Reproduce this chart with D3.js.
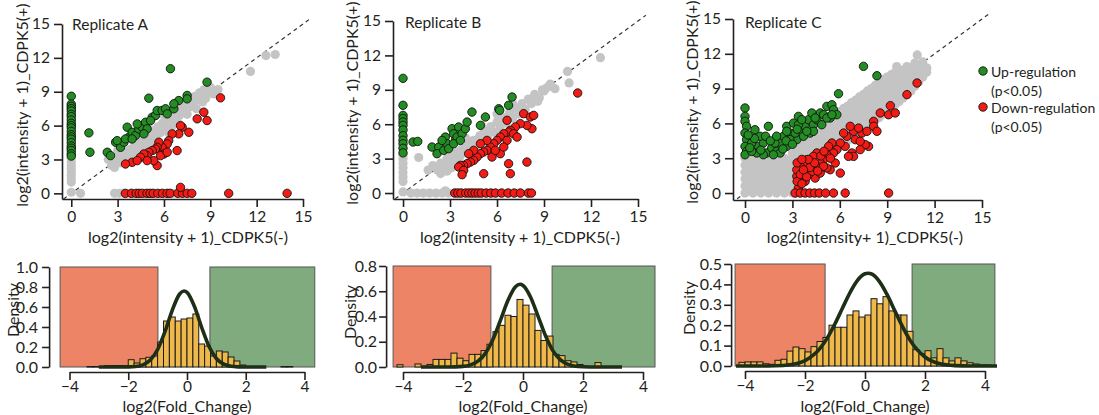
<!DOCTYPE html>
<html>
<head>
<meta charset="utf-8">
<script src="https://cdn.jsdelivr.net/npm/d3@7"></script>
<style>
body { margin: 0; background: #fff; }
svg { display: block; font-family: Lato, "Open Sans", sans-serif; }
</style>
</head>
<body>
<svg id="chart" width="1099" height="415"></svg>
<script>
// ---- scatter data: [log2 CDPK5(-), log2 CDPK5(+)] ----
var grayA = [[0,0.1],[0,1.0],[0,1.3],[0,1.6],[0,1.9],[0,2.2],[0,2.5],[0,2.8],[0,3.1],[0.6,0],
  [2.8,0],[3.1,0],[3.4,0],[3.8,0],[4.3,0],[4.8,0],[5.3,0],[5.8,0],[6.3,0],[6.6,0],
  [2.4,3.0],[2.6,2.5],[2.8,2.3],[2.9,2.8],[3.1,3.3],[3.2,2.7],[3.4,3.0],[3.5,3.6],[3.7,3.2],[3.8,3.9],
  [4.0,3.5],[4.1,4.2],[4.3,3.8],[4.4,4.5],[4.6,4.1],[4.7,4.8],[4.9,4.5],[5.0,5.2],[5.2,4.8],[5.3,5.5],
  [5.5,5.1],[5.6,5.9],[5.8,5.4],[5.9,6.2],[6.1,5.8],[6.2,6.6],[6.4,6.1],[6.5,6.9],[6.7,6.5],[6.8,7.2],
  [7.0,6.9],[7.1,7.5],[7.3,7.2],[7.4,7.9],[7.6,7.6],[7.7,8.2],[7.9,8.0],[8.0,8.6],[8.2,8.3],[8.3,8.9],
  [8.5,8.6],[8.6,9.2],[8.8,9.0],[9.0,9.4],[9.5,9.2],[11.6,10.8],[12.6,12.2],[13.2,12.3],
  [3.0,3.8],[4.0,4.7],[5.0,5.8],[6.0,6.9],[7.0,7.8],[3.5,2.9],[4.5,3.7],[5.5,4.7],[6.5,5.9],[7.5,7.0],[8.5,8.1],
  [3.3,3.5],[3.9,3.3],[4.5,4.2],[5.1,4.3],[5.7,5.6],[6.3,5.4],[6.9,6.2],[7.5,7.6],[8.1,7.5],[8.7,8.4],[9.2,8.8],[2.7,2.9]];
var greenA = [[6.42,11.04],[8.79,9.85],[5.02,8.43],[1.14,5.36],[1.21,3.64],
  [0,8.6],[0,7.9],[0,7.7],[0,7.5],[0,7.3],[0,7.0],[0,6.8],[0,6.5],[0,6.2],[0,6.0],[0,5.8],[0,5.5],[0,5.2],
  [0,5.0],[0,4.8],[0,4.5],[0,4.2],[0,4.0],[0,3.8],[0,3.5],[0,3.3],
  [2.33,3.64],[2.54,3.34],[2.87,4.53],[3.19,4.08],[3.41,4.53],[3.62,5.86],[3.73,4.97],[3.94,5.41],[4.16,5.12],
  [4.37,5.71],[4.59,5.86],[4.81,6.30],[4.91,5.71],[5.24,6.75],[5.45,6.89],[5.56,7.34],[5.88,7.34],[6.10,7.49],
  [6.64,7.49],[6.96,8.22],[7.50,8.67],[7.50,8.37],[4.70,5.27],[4.27,6.15],[2.97,4.67],[3.51,4.82],[3.94,4.82],
  [5.13,6.45],[6.21,7.04],[6.64,7.93]];
var redA = [[9.66,8.46],[8.58,7.19],[8.79,6.45],[8.15,6.60],[7.18,5.86],[7.07,6.0],[7.61,5.41],[6.96,5.27],
  [6.53,5.27],[6.31,4.67],[6.21,4.38],[5.88,4.08],[5.67,4.53],[6.0,3.49],[5.56,4.08],[5.45,3.93],[5.24,3.79],
  [5.02,3.64],[4.91,3.34],[4.70,3.49],[4.48,3.20],[3.94,2.75],[3.51,2.60],[5.56,2.46],[5.34,2.90],[6.85,3.79],
  [5.78,3.34],[6.21,3.64],[4.91,2.90],[4.27,2.90],
  [3.5,0],[3.9,0],[4.2,0],[4.4,0],[4.6,0],[4.9,0],[5.1,0],[5.3,0],[5.6,0],[5.9,0],[6.2,0],[6.4,0],[6.9,0],
  [7.2,0],[7.5,0],[7.8,0],[7.07,0.53],[10.19,0],[13.97,0]];

var grayB = [[0,0.1],[0,1.0],[0,1.4],[0,1.8],[0,2.2],[0,2.6],[0,3.0],[0,3.3],
  [0.5,0],[0.9,0],[1.3,0],[1.7,0],[2.1,0],[2.5,0],[2.9,0],[3.3,0],[3.8,0],[4.4,0],[5.0,0],[5.6,0],[6.2,0],
  [6.8,0],[7.4,0],[8.0,0],
  [1.0,3.1],[1.9,2.4],[1.6,2.0],[2.2,2.0],[2.4,2.6],[2.6,2.2],[2.8,3.0],[3.0,2.5],[3.2,3.3],[3.3,2.8],
  [3.5,3.6],[3.6,3.1],[3.8,3.9],[4.0,3.5],[4.2,4.3],[4.3,3.8],[4.5,4.6],[4.7,4.2],[4.9,5.0],[5.0,4.5],
  [5.2,5.4],[5.4,4.9],[5.6,5.8],[5.8,5.3],[6.0,6.2],[6.2,5.7],[6.4,6.6],[6.6,6.1],[6.8,7.0],[7.0,6.5],
  [7.2,7.4],[7.4,6.9],[7.6,7.8],[7.8,7.3],[8.0,8.2],[8.2,7.8],[8.4,8.6],[8.7,8.3],[8.9,9.0],[9.4,9.5],
  [9.0,8.9],[9.7,9.1],[10.5,10.6],[10.6,9.6],[12.6,11.8],[4.0,4.8],[5.0,5.9],[6.0,6.9],[7.0,7.8],[3.0,3.7],
  [2.7,0.2],[2.4,1.7],[2.8,1.9],[3.1,2.2],
  [3.4,3.2],[4.1,4.0],[4.8,4.7],[5.5,5.3],[6.2,6.0],[6.9,6.7],[7.6,7.3],[8.3,8.1],[9.2,9.2],[8.6,8.0]];
var greenB = [[0,10.0],[0,7.65],[0,6.77],[0,6.5],[0,6.2],[0,5.9],[0,5.5],[0,5.0],[0,4.6],[0,4.3],[0,3.9],[0,3.5],
  [0.64,4.45],[0.94,4.5],[1.85,4.01],[2.28,4.01],[2.17,3.43],[2.6,3.72],[2.7,4.88],[2.81,4.30],[2.91,3.87],
  [3.13,5.61],[3.23,5.17],[3.34,4.59],[3.45,4.88],[3.55,5.76],[3.77,5.17],[3.98,5.61],[4.09,6.19],[4.40,7.06],
  [4.94,5.90],[5.26,6.63],[6.11,7.35],[6.17,7.21],[6.74,7.65],[6.96,8.37],[2.49,4.59],[3.23,4.30],[3.66,4.59]];
var redB = [[11.15,8.72],[7.7,6.92],[8.13,6.63],[8.34,6.77],[8.23,5.61],[7.91,5.90],[7.49,6.05],[7.17,5.76],
  [6.85,5.47],[6.64,6.34],[6.74,5.32],[6.43,5.17],[6.21,4.88],[6.0,4.59],[5.79,4.30],[5.57,4.01],[5.36,3.72],
  [5.15,3.58],[4.94,3.43],[4.72,3.14],[4.51,2.85],[4.30,2.70],[4.09,2.56],[3.87,2.41],[3.66,2.41],[3.55,2.27],
  [3.87,1.98],[3.77,1.60],[5.15,1.69],[6.85,1.69],[6.74,2.56],[7.91,2.70],[6.21,3.43],[5.36,4.59],[6.64,4.59],
  [7.06,5.17],[5.68,3.14],[4.94,4.30],[4.51,3.72],[4.19,3.43],[5.89,3.72],[6.43,4.01],[7.28,4.88],
  [3.3,0],[3.5,0],[3.7,0],[4.0,0],[4.2,0],[4.4,0],[4.6,0],[4.8,0],[5.0,0],[5.3,0],[5.6,0],[5.9,0],[6.3,0],
  [6.7,0],[7.1,0],[7.5,0],[8.0,0],[8.2,0]];

var grayC = [[0,0],[0.5,0],[1,0],[1.5,0],[2,0],[2.5,0],[3,0],[3.2,0],
  [0,0.6],[0.5,0.6],[1,0.6],[1.5,0.6],[2,0.6],[2.5,0.6],[3,0.6],
  [0,1.2],[0.5,1.2],[1,1.2],[1.5,1.2],[2,1.2],[2.5,1.2],[3,1.2],
  [0,1.8],[0.5,1.8],[1,1.8],[1.5,1.8],[2,1.8],[2.5,1.8],[3,1.8],
  [0,2.4],[0.5,2.4],[1,2.4],[1.5,2.4],[2,2.4],[2.5,2.4],[3,2.4],
  [0,3.0],[0.5,3.0],[1,3.0],[1.5,3.0],[2,3.0],[2.5,3.0],[3,3.0],[3.2,3.0],
  [0.25,0.3],[0.75,0.3],[1.25,0.3],[1.75,0.3],[2.25,0.3],[2.75,0.3],[3.2,0.3],
  [0.25,0.9],[0.75,0.9],[1.25,0.9],[1.75,0.9],[2.25,0.9],[2.75,0.9],[3.2,0.9],
  [0.25,1.5],[0.75,1.5],[1.25,1.5],[1.75,1.5],[2.25,1.5],[2.75,1.5],[3.2,1.5],
  [0.25,2.1],[0.75,2.1],[1.25,2.1],[1.75,2.1],[2.25,2.1],[2.75,2.1],[3.2,2.1],
  [0.25,2.7],[0.75,2.7],[1.25,2.7],[1.75,2.7],[2.25,2.7],[2.75,2.7],[3.2,2.7],
  [0.2,3.2],[1.2,3.2],[2.2,3.2],[3.0,3.4],[3.3,3.8],
  [3.5,1.6],[3.5,2.2],[3.5,2.8],[3.5,3.4],[3.5,4.0],[3.5,4.6],
  [3.75,1.8],[3.75,2.4],[3.75,3.0],[3.75,3.6],[3.75,4.2],[3.75,4.8],
  [4.0,2.0],[4.0,2.6],[4.0,3.2],[4.0,3.8],[4.0,4.4],[4.0,5.0],
  [4.25,2.3],[4.25,2.9],[4.25,3.5],[4.25,4.1],[4.25,4.7],[4.25,5.3],
  [4.5,2.5],[4.5,3.1],[4.5,3.7],[4.5,4.3],[4.5,4.9],[4.5,5.5],
  [4.75,2.8],[4.75,3.4],[4.75,4.0],[4.75,4.6],[4.75,5.2],[4.75,5.8],
  [5.0,3.0],[5.0,3.6],[5.0,4.2],[5.0,4.8],[5.0,5.4],[5.0,6.0],
  [5.25,3.3],[5.25,3.9],[5.25,4.5],[5.25,5.1],[5.25,5.7],[5.25,6.3],
  [5.5,3.5],[5.5,4.1],[5.5,4.7],[5.5,5.3],[5.5,5.9],[5.5,6.5],
  [5.75,3.8],[5.75,4.4],[5.75,5.0],[5.75,5.6],[5.75,6.2],[5.75,6.8],
  [6.0,4.0],[6.0,4.6],[6.0,5.2],[6.0,5.8],[6.0,6.4],[6.0,7.0],
  [6.25,4.3],[6.25,4.9],[6.25,5.5],[6.25,6.1],[6.25,6.7],[6.25,7.3],
  [6.5,4.5],[6.5,5.1],[6.5,5.7],[6.5,6.3],[6.5,6.9],[6.5,7.5],
  [6.75,4.8],[6.75,5.4],[6.75,6.0],[6.75,6.6],[6.75,7.2],[6.75,7.8],
  [7.0,5.0],[7.0,5.6],[7.0,6.2],[7.0,6.8],[7.0,7.4],[7.0,8.0],
  [7.25,5.3],[7.25,5.9],[7.25,6.5],[7.25,7.1],[7.25,7.7],[7.25,8.3],
  [7.5,5.5],[7.5,6.1],[7.5,6.7],[7.5,7.3],[7.5,7.9],[7.5,8.5],
  [7.75,5.8],[7.75,6.4],[7.75,7.0],[7.75,7.6],[7.75,8.2],[7.75,8.8],
  [8.0,6.0],[8.0,6.6],[8.0,7.2],[8.0,7.8],[8.0,8.4],[8.0,9.0],
  [8.25,6.3],[8.25,6.9],[8.25,7.5],[8.25,8.1],[8.25,8.7],[8.25,9.3],
  [8.5,6.5],[8.5,7.1],[8.5,7.7],[8.5,8.3],[8.5,8.9],[8.5,9.5],
  [8.75,6.8],[8.75,7.4],[8.75,8.0],[8.75,8.6],[8.75,9.2],[8.75,9.8],
  [9.0,7.0],[9.0,7.6],[9.0,8.2],[9.0,8.8],[9.0,9.4],[9.0,10.0],
  [9.25,7.3],[9.25,7.9],[9.25,8.5],[9.25,9.1],[9.25,9.7],[9.25,10.2],
  [9.5,7.6],[9.5,8.2],[9.5,8.8],[9.5,9.4],[9.5,10.0],[9.5,10.4],
  [9.75,7.9],[9.75,8.5],[9.75,9.1],[9.75,9.7],[9.75,10.3],
  [10.0,8.2],[10.0,8.8],[10.0,9.4],[10.0,10.0],[10.0,10.6],
  [10.25,8.5],[10.25,9.1],[10.25,9.7],[10.25,10.3],[10.25,10.9],
  [10.5,8.8],[10.5,9.4],[10.5,10.0],[10.5,10.8],
  [10.75,9.2],[10.75,9.8],[10.75,10.4],[10.75,11.2],
  [11.0,9.6],[11.0,10.2],[11.0,11.0],[11.25,10.0],[11.25,10.6],[11.25,11.3],[11.5,10.4],[11.5,10.8],
  [10.9,11.9],[9.6,10.9],[10.9,11.0],[11.5,10.7]];
var greenC = [[0,7.33],[0,6.61],[0,6.18],[0.1,5.75],[0,5.17],[0.1,4.6],[0,4.02],[0.1,3.59],[0,3.3],
  [0.63,5.46],[0.85,4.02],[1.16,4.31],[1.37,3.45],[1.69,3.88],[2.01,3.59],[1.48,5.75],[2.22,4.31],[2.43,4.89],
  [2.64,5.75],[2.85,5.17],[3.07,6.03],[3.38,6.61],[3.49,5.46],[3.81,5.75],[4.02,6.32],[4.12,5.17],[4.33,5.89],
  [4.55,6.32],[4.76,6.9],[4.97,6.75],[5.18,7.47],[5.5,7.61],[5.6,7.18],[5.92,8.56],[5.81,6.75],[5.39,6.47],
  [4.33,5.32],[3.28,4.6],[2.64,4.02],[2.22,3.45],[1.8,3.3],[1.16,3.3],[0.74,3.45],[0.42,3.59],[2.85,4.6],
  [3.17,5.17],[3.7,4.89],[3.91,5.32],[2.64,5.32],[3.38,5.89],[1.9,4.31],[0.95,4.89],[0.42,4.31],[4.23,6.9],
  [4.44,6.47],[3.59,6.32],[7.5,10.92],[8.35,10.11],[4.86,5.89],[5.18,6.47],[5.5,6.75],
  [0.3,3.9],[0.6,4.7],[1.0,3.7],[1.3,4.9],[1.6,4.5],[2.0,4.9],[2.4,3.8],[2.6,4.5],[3.0,4.2],[3.3,5.5],[0.2,5.0]];
var redC = [[10.89,9.48],[10.25,8.48],[9.2,7.53],[9.09,6.75],[9.51,6.9],[8.14,6.18],[8.14,5.75],[7.4,5.17],
  [7.82,4.02],[7.61,4.17],[6.87,5.32],[6.66,5.75],[6.45,4.89],[6.24,5.17],[6.98,4.6],[6.77,3.45],[6.87,3.16],
  [6.34,4.02],[6.03,4.31],[5.81,3.74],[5.6,3.45],[5.5,4.31],[5.29,4.02],[5.18,3.3],[4.97,2.87],[4.76,2.59],
  [4.55,3.45],[4.33,3.16],[4.23,2.3],[3.91,2.87],[3.7,2.44],[3.49,2.3],[3.38,1.87],[3.28,1.44],[3.81,1.01],
  [3.38,0.43],[4.44,1.29],[4.76,1.72],[5.39,2.01],[6.03,1.72],[5.18,2.16],[5.71,2.59],[6.55,3.16],[7.29,3.74],
  [7.29,4.45],[3.28,2.01],[4.02,1.58],[4.23,1.87],[4.65,2.16],[4.97,2.3],[8.56,6.9],[8.35,5.32],[7.72,5.32],
  [7.19,5.6],[3.3,1.0],[3.6,0.8],[3.5,1.6],[3.9,1.4],[4.1,2.2],[4.4,2.6],[4.6,1.9],[3.7,2.0],[4.0,2.9],
  [4.8,3.2],[5.0,3.6],[5.4,3.0],[3.3,2.6],[3.6,2.9],
  [3.17,0],[3.5,0],[3.8,0],[4.1,0],[4.4,0],[4.7,0],[5.1,0],[5.6,0],[6.34,0],[9.09,0]];

var scatterTicks = [0, 3, 6, 9, 12, 15];
var diagonal = [-0.5, 15.5];
var legendLabels = [["Up-regulation", "(p<0.05)"], ["Down-regulation", "(p<0.05)"]];

// ---- histogram data: bin start (width 0.2) and density ----
var binWidth = 0.2;
var binsA = [-3.4,-3.2,-3.0,-2.8,-2.6,-2.4,-2.2,-2.0,-1.8,-1.6,-1.4,-1.2,-1.0,-0.8,-0.6,-0.4,-0.2,0.0,0.2,0.4,0.6,0.8,1.0,1.2,1.4,1.6,1.8,2.0,2.2,2.4,3.2,3.4];
var densA = [0.005,0.005,0.005,0.015,0.015,0.015,0.015,0.073,0.04,0.083,0.097,0.11,0.25,0.46,0.50,0.46,0.48,0.49,0.53,0.23,0.21,0.11,0.16,0.15,0.10,0.06,0.02,0.005,0.005,0.005,0.005,0.005];
var binsB = [-4.2,-3.6,-3.2,-3.0,-2.8,-2.6,-2.4,-2.2,-2.0,-1.8,-1.6,-1.4,-1.2,-1.0,-0.8,-0.6,-0.4,-0.2,0.0,0.2,0.4,0.6,0.8,1.0,1.2,1.4,1.6,1.8,2.4];
var densB = [0.018,0.024,0.02,0.06,0.06,0.06,0.11,0.07,0.05,0.10,0.10,0.13,0.18,0.28,0.33,0.41,0.40,0.535,0.49,0.42,0.29,0.21,0.245,0.10,0.09,0.05,0.04,0.02,0.035];
var binsC = [-4.2,-4.0,-3.8,-3.6,-3.4,-3.2,-3.0,-2.8,-2.6,-2.4,-2.2,-2.0,-1.8,-1.6,-1.4,-1.2,-1.0,-0.8,-0.6,-0.4,-0.2,0.0,0.2,0.4,0.6,0.8,1.0,1.2,1.4,1.6,1.8,2.0,2.2,2.4,2.6,2.8,3.0,3.2,3.4,3.6,3.8,4.0];
var densC = [0.018,0.02,0.02,0.02,0.011,0.008,0.028,0.033,0.073,0.093,0.085,0.069,0.095,0.12,0.14,0.20,0.19,0.19,0.25,0.27,0.24,0.25,0.33,0.305,0.34,0.27,0.25,0.25,0.17,0.08,0.06,0.075,0.04,0.085,0.04,0.025,0.04,0.025,0.016,0.01,0.005,0.005];

// fitted density curves
var fitAx = [-3.0,-2.5,-2.0,-1.75,-1.5,-1.25,-1.0,-0.75,-0.5,-0.25,-0.1,0.0,0.25,0.5,0.75,1.0,1.25,1.5,1.75,2.0,2.7];
var fitAy = [0,0,0.001,0.005,0.022,0.069,0.175,0.353,0.569,0.730,0.760,0.746,0.608,0.395,0.205,0.085,0.028,0.007,0.0015,0,0];
var fitBx = [-3.4,-2.5,-2.0,-1.75,-1.5,-1.25,-1.0,-0.75,-0.5,-0.25,-0.1,0.0,0.25,0.5,0.75,1.0,1.25,1.5,1.75,2.0,2.5,3.3];
var fitBy = [0,0,0.005,0.017,0.047,0.110,0.220,0.371,0.528,0.635,0.655,0.646,0.555,0.403,0.247,0.128,0.056,0.021,0.0065,0.002,0,0];
var fitCx = [-4.3,-3.5,-3.0,-2.5,-2.0,-1.5,-1.25,-1.0,-0.75,-0.5,-0.25,0.0,0.1,0.25,0.5,0.75,1.0,1.25,1.5,2.0,2.5,3.0,3.5,4.4];
var fitCy = [0,0,0.001,0.006,0.026,0.086,0.139,0.207,0.284,0.360,0.420,0.452,0.455,0.449,0.410,0.346,0.269,0.193,0.127,0.044,0.011,0.002,0,0];

var cutLow = [-0.99, -1.07, -1.33];
var cutHigh = [0.78, 0.97, 1.57];
var histXTicks = [-4, -2, 0, 2, 4];

var svg = d3.select("#chart");
var ink = "#231f20";

function styleAxes(g, size) {
	g.selectAll(".domain, .tick line").attr("stroke", ink).attr("stroke-width", 1.6);
	g.selectAll(".tick text").attr("font-size", size).attr("fill", ink).attr("font-family", "Lato, sans-serif");
}

function scatter(p) {
	var x = d3.scaleLinear().domain(p.xd).range(p.xr),
			y = d3.scaleLinear().domain(p.yd).range(p.yr);
	var g = svg.append("g");

	g.append("g")
		.attr("transform", "translate(0," + p.yr[0] + ")")
		.call(d3.axisBottom(x).tickValues(scatterTicks).tickSize(8).tickSizeOuter(0).tickPadding(4));
	g.append("g")
		.attr("transform", "translate(" + p.xr[0] + ",0)")
		.call(d3.axisLeft(y).tickValues(scatterTicks).tickSize(8).tickSizeOuter(0).tickPadding(4));
	styleAxes(g, 15.5);

	g.append("line")
		.attr("x1", x(diagonal[0])).attr("y1", y(diagonal[0]))
		.attr("x2", x(diagonal[1])).attr("y2", y(diagonal[1]))
		.attr("stroke", "#333").attr("stroke-width", 1.2).attr("stroke-dasharray", "4,3.5");

	g.selectAll("circle.gray").data(p.gray).enter().append("circle")
		.attr("class", "gray")
		.attr("cx", function(d) { return x(d[0]); })
		.attr("cy", function(d) { return y(d[1]); })
		.attr("r", 4.6)
		.attr("fill", "#c4c4c4");

	[[p.green, "#238c23"], [p.red, "#f41b14"]].forEach(function(s) {
		g.append("g").selectAll("circle").data(s[0]).enter().append("circle")
			.attr("cx", function(d) { return x(d[0]); })
			.attr("cy", function(d) { return y(d[1]); })
			.attr("r", 4.2)
			.attr("fill", s[1])
			.attr("stroke", "#111")
			.attr("stroke-width", 0.9);
	});

	g.append("text").attr("x", p.title[1]).attr("y", p.title[2])
		.attr("font-size", 15.5).attr("fill", ink).text(p.title[0]);
	g.append("text")
		.attr("transform", "translate(" + p.ylab[0] + "," + p.ylab[1] + ") rotate(-90)")
		.attr("text-anchor", "middle").attr("dominant-baseline", "central")
		.attr("font-size", 16).attr("fill", ink)
		.text("log2(intensity + 1)_CDPK5(+)");
	g.append("text")
		.attr("x", p.xlab[1]).attr("y", p.xlab[2])
		.attr("text-anchor", "middle").attr("dominant-baseline", "central")
		.attr("font-size", 16).attr("fill", ink)
		.text(p.xlab[0]);
}

function hist(p, i) {
	var top = p.yTicks[p.yTicks.length - 1];
	var x = d3.scaleLinear().domain([-4, 4]).range(p.xr),
			y = d3.scaleLinear().domain([0, top]).range(p.yr);
	var g = svg.append("g");

	g.append("rect")
		.attr("x", x(p.ext[0])).attr("y", y(top))
		.attr("width", x(cutLow[i]) - x(p.ext[0])).attr("height", y(0) - y(top))
		.attr("fill", "#ee8466").attr("stroke", "#555").attr("stroke-width", 1);
	g.append("rect")
		.attr("x", x(cutHigh[i])).attr("y", y(top))
		.attr("width", x(p.ext[1]) - x(cutHigh[i])).attr("height", y(0) - y(top))
		.attr("fill", "#80ab7e").attr("stroke", "#555").attr("stroke-width", 1);

	g.selectAll("rect.bar").data(p.bins).enter().append("rect")
		.attr("class", "bar")
		.attr("x", function(d) { return x(d); })
		.attr("width", function(d) { return x(d + binWidth) - x(d); })
		.attr("y", function(d, j) { return y(p.dens[j]); })
		.attr("height", function(d, j) { return y(0) - y(p.dens[j]); })
		.attr("fill", "#efb84a").attr("stroke", "#1a1a1a").attr("stroke-width", 1);

	var line = d3.line()
		.curve(d3.curveMonotoneX)
		.x(function(d) { return x(d[0]); })
		.y(function(d) { return y(d[1]); });
	g.append("path")
		.datum(p.fx.map(function(v, j) { return [v, p.fy[j]]; }))
		.attr("d", line)
		.attr("fill", "none").attr("stroke", "#1d2f17").attr("stroke-width", 3.6);

	g.append("g")
		.attr("transform", "translate(0," + (p.yr[0] + 5) + ")")
		.call(d3.axisBottom(x).tickValues(histXTicks).tickSize(8).tickSizeOuter(0).tickPadding(1));
	g.append("g")
		.attr("transform", "translate(" + (x(p.ext[0]) - p.yOff) + ",0)")
		.call(d3.axisLeft(y).tickValues(p.yTicks).tickFormat(d3.format(".1f")).tickSize(7).tickSizeOuter(0).tickPadding(p.pad));
	styleAxes(g, 16);
	g.selectAll(".tick text").filter(function(d) { return histXTicks.indexOf(d) >= 0 && this.parentNode.parentNode.getAttribute("transform").indexOf("translate(0,") === 0; })
		.attr("font-size", 15.5);

	g.append("text")
		.attr("transform", "translate(" + p.dlab[0] + "," + p.dlab[1] + ") rotate(-90)")
		.attr("text-anchor", "middle").attr("dominant-baseline", "central")
		.attr("font-size", 16).attr("fill", ink).text("Density");
	g.append("text")
		.attr("x", x(0)).attr("y", 412)
		.attr("text-anchor", "middle")
		.attr("font-size", 16).attr("fill", ink).text("log2(Fold_Change)");
}

scatter({xd: [-0.6, 15], xr: [62, 303], yd: [-0.5, 15], yr: [199, 24],
	gray: grayA, green: greenA, red: redA,
	title: ["Replicate A", 72, 30], ylab: [21, 105], xlab: ["log2(intensity + 1)_CDPK5(-)", 188, 236]});
scatter({xd: [-0.64, 15], xr: [393, 638], yd: [-0.52, 15], yr: [199, 21],
	gray: grayB, green: greenB, red: redB,
	title: ["Replicate B", 405, 28], ylab: [351, 103], xlab: ["log2(intensity + 1)_CDPK5(-)", 520, 236]});
scatter({xd: [-0.76, 15], xr: [733, 982], yd: [-0.6, 15], yr: [200, 19],
	gray: grayC, green: greenC, red: redC,
	title: ["Replicate C", 745, 28], ylab: [691, 102], xlab: ["log2(intensity+ 1)_CDPK5(-)", 865, 236]});

// legend
var legend = svg.append("g");
[["#238c23", 71], ["#f41b14", 107]].forEach(function(l, i) {
	legend.append("circle").attr("cx", 983).attr("cy", l[1]).attr("r", 4.2)
		.attr("fill", l[0]).attr("stroke", "#111").attr("stroke-width", 0.9);
	legendLabels[i].forEach(function(t, k) {
		legend.append("text").attr("x", 991).attr("y", l[1] + k * 19)
			.attr("dominant-baseline", "central").attr("font-size", 14).attr("fill", ink).text(t);
	});
});

hist({xr: [69.5, 304.5], yr: [367, 267], ext: [-4.32, 4.35], yOff: 11, pad: 4, yTicks: [0, 0.2, 0.4, 0.6, 0.8, 1.0],
	bins: binsA, dens: densA, fx: fitAx, fy: fitAy, dlab: [12, 310]}, 0);
hist({xr: [403, 643], yr: [367, 266], ext: [-4.33, 4.4], yOff: 7, pad: 2, yTicks: [0, 0.2, 0.4, 0.6, 0.8],
	bins: binsB, dens: densB, fx: fitBx, fy: fitBy, dlab: [349, 312]}, 1);
hist({xr: [745, 985], yr: [366, 264], ext: [-4.33, 4.33], yOff: 4, pad: 2, yTicks: [0, 0.1, 0.2, 0.3, 0.4, 0.5],
	bins: binsC, dens: densC, fx: fitCx, fy: fitCy, dlab: [688, 308]}, 2);
</script>
</body>
</html>
